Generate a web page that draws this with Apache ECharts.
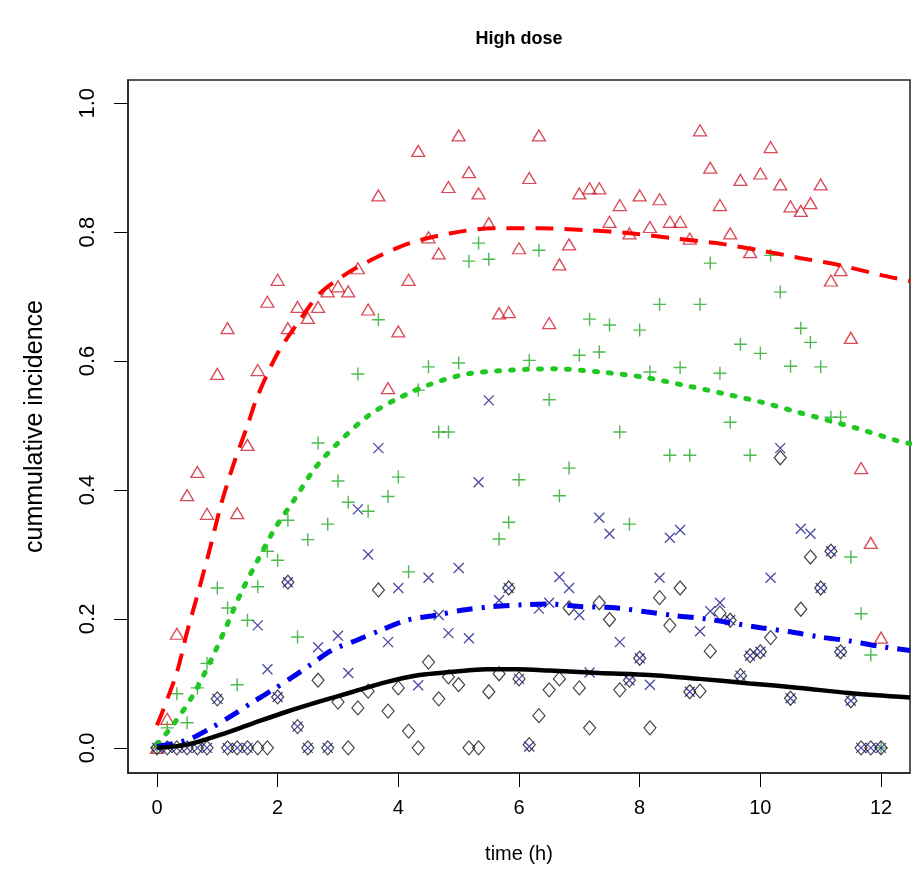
<!DOCTYPE html>
<html><head><meta charset="utf-8">
<script src="https://cdn.jsdelivr.net/npm/echarts@6/dist/echarts.min.js"></script>
<style>html,body{margin:0;padding:0;background:#fff}#c{width:912px;height:891px}</style>
</head><body><div id="c"></div>
<script>
// observation times (h)
const times = [0,0.17,0.33,0.5,0.67,0.83,1.0,1.17,1.33,1.5,1.67,1.83,2.0,2.17,2.33,2.5,2.67,2.83,3.0,3.17,3.33,3.5,3.67,3.83,4.0,4.17,4.33,4.5,4.67,4.83,5.0,5.17,5.33,5.5,5.67,5.83,6.0,6.17,6.33,6.5,6.67,6.83,7.0,7.17,7.33,7.5,7.67,7.83,8.0,8.17,8.33,8.5,8.67,8.83,9.0,9.17,9.33,9.5,9.67,9.83,10.0,10.17,10.33,10.5,10.67,10.83,11.0,11.17,11.33,11.5,11.67,11.83,12.0];
// red triangles
const triVals = [0,0.045,0.177,0.392,0.428,0.363,0.58,0.651,0.364,0.47,0.586,0.692,0.726,0.651,0.684,0.667,0.684,0.708,0.716,0.708,0.744,0.68,0.857,0.558,0.646,0.726,0.926,0.792,0.767,0.87,0.95,0.893,0.86,0.814,0.674,0.676,0.775,0.884,0.95,0.659,0.75,0.781,0.86,0.868,0.868,0.816,0.842,0.798,0.857,0.808,0.851,0.816,0.816,0.79,0.958,0.9,0.842,0.798,0.881,0.769,0.891,0.932,0.874,0.84,0.833,0.845,0.874,0.725,0.741,0.636,0.434,0.318,0.171];
// green plus
const plusVals = [0,0.031,0.084,0.039,0.093,0.131,0.248,0.217,0.098,0.198,0.25,0.305,0.291,0.353,0.172,0.323,0.473,0.347,0.414,0.381,0.58,0.367,0.664,0.39,0.42,0.273,0.555,0.591,0.49,0.49,0.597,0.755,0.783,0.758,0.324,0.35,0.416,0.601,0.772,0.54,0.391,0.434,0.609,0.665,0.614,0.656,0.49,0.347,0.648,0.583,0.688,0.454,0.59,0.454,0.688,0.752,0.581,0.505,0.626,0.454,0.612,0.764,0.707,0.592,0.651,0.629,0.591,0.513,0.513,0.296,0.208,0.144,0];
// blue crosses
const crossVals = [0,0,0,0,0,0,0.076,0,0,0,0.19,0.122,0.079,0.257,0.033,0,0.156,0,0.174,0.116,0.37,0.3,0.465,0.164,0.248,null,0.097,0.264,0.206,0.178,0.279,0.17,0.412,0.539,0.229,0.248,0.107,0.002,0.216,0.225,0.265,0.248,0.206,0.117,0.357,0.332,0.164,0.105,0.139,0.098,0.264,0.326,0.338,0.087,0.181,0.212,0.225,0.198,0.112,0.143,0.149,0.264,0.465,0.077,0.34,0.332,0.248,0.305,0.149,0.073,0,0,0];
// black diamonds
const diamVals = [0,0,0,0,0,0,0.076,0,0,0,0,0,0.079,0.257,0.033,0,0.105,0,0.071,0,0.062,0.088,0.245,0.057,0.093,0.026,0,0.133,0.076,0.11,0.098,0,0,0.087,0.115,0.248,0.107,0.005,0.05,0.09,0.107,0.217,0.093,0.031,0.225,0.199,0.09,0.105,0.139,0.031,0.233,0.19,0.248,0.087,0.088,0.15,0.209,0.198,0.112,0.143,0.149,0.171,0.45,0.077,0.215,0.296,0.248,0.305,0.149,0.073,0,0,0];

// fitted curves
const redCurveT = [0,0.1,0.33,0.5,0.7,0.88,1.07,1.27,1.5,1.66,2.0,2.37,2.7,3.15,3.64,4.19,4.85,5.56,6.34,7.12,7.88,8.6,9.27,9.98,10.65,11.3,12.02,12.48];
const redCurveY = [0.035,0.058,0.117,0.18,0.247,0.31,0.38,0.44,0.5,0.544,0.612,0.664,0.705,0.736,0.761,0.783,0.798,0.806,0.806,0.803,0.798,0.79,0.783,0.772,0.76,0.749,0.733,0.724];
const greenCurveT = [0,0.27,0.6,0.88,1.14,1.39,1.67,1.96,2.29,2.62,3.0,3.5,3.95,4.53,5.14,5.87,6.6,7.35,8.06,8.71,9.37,10.03,10.65,11.59,12.25,12.48];
const greenCurveY = [0.005,0.036,0.082,0.133,0.186,0.24,0.291,0.341,0.387,0.434,0.473,0.515,0.54,0.564,0.58,0.586,0.588,0.583,0.575,0.563,0.55,0.536,0.52,0.496,0.477,0.472];
const blueCurveT = [0,0.5,0.88,1.26,1.57,1.92,2.25,2.53,2.91,3.31,3.72,4.14,4.64,5.07,5.56,6.06,6.5,7.05,7.63,8.1,8.6,9.1,10.03,10.5,10.98,11.47,11.94,12.48];
const blueCurveY = [0.002,0.012,0.03,0.051,0.07,0.09,0.11,0.128,0.152,0.167,0.183,0.198,0.206,0.214,0.219,0.222,0.223,0.219,0.217,0.211,0.205,0.2,0.186,0.18,0.172,0.166,0.158,0.151];
const blackCurveT = [0,0.5,1.04,1.59,2.15,2.7,3.25,3.8,4.35,4.9,5.46,5.96,6.5,7.33,8.16,8.99,9.82,10.65,11.47,12.48];
const blackCurveY = [0,0.005,0.02,0.038,0.056,0.072,0.087,0.102,0.113,0.118,0.122,0.122,0.12,0.116,0.113,0.107,0.1,0.093,0.085,0.078];

const xTicks = [0,2,4,6,8,10,12];
const yTicks = [0,0.2,0.4,0.6,0.8,1.0];

function pairs(t, v) {
  const out = [];
  for (let i = 0; i < t.length; i++) if (v[i] !== null) out.push([t[i], v[i]]);
  return out;
}

const FONT = '"Liberation Sans", Arial, sans-serif';
const chart = echarts.init(document.getElementById('c'), null, {renderer: 'canvas'});
chart.setOption({
  animation: false,
  backgroundColor: '#fff',
  title: {
    text: 'High dose', left: 519, top: 30, textAlign: 'center', padding: 0,
    textStyle: {fontSize: 18, fontWeight: 'bold', color: '#000', fontFamily: FONT}
  },
  grid: {left: 128, right: 2, top: 80, bottom: 118, show: true, borderColor: '#222', borderWidth: 1.5},
  xAxis: {
    type: 'value', min: -0.48, max: 12.48,
    splitLine: {show: false},
    axisLine: {show: true, onZero: false, lineStyle: {color: '#222', width: 1.5}},
    axisTick: {show: true, customValues: xTicks, length: 14, lineStyle: {color: '#000', width: 1}},
    axisLabel: {customValues: xTicks, margin: 25, fontSize: 20, color: '#000', fontFamily: FONT},
    name: 'time (h)', nameLocation: 'middle', nameGap: 71,
    nameTextStyle: {fontSize: 20, color: '#000', fontFamily: FONT}
  },
  yAxis: {
    type: 'value', min: -0.039, max: 1.036,
    splitLine: {show: false},
    axisLine: {show: true, onZero: false, lineStyle: {color: '#222', width: 1.5}},
    axisTick: {show: true, customValues: yTicks, length: 14, lineStyle: {color: '#000', width: 1}},
    axisLabel: {customValues: yTicks, rotate: 90, margin: 29, fontSize: 22, color: '#000', fontFamily: FONT,
      formatter: v => v.toFixed(1)},
    name: 'cummulative incidence', nameLocation: 'middle', nameGap: 80, nameRotate: 90,
    nameTextStyle: {fontSize: 25, color: '#000', fontFamily: FONT}
  },
  series: [
    {type: 'scatter', data: pairs(times, triVals), symbol: 'triangle', symbolSize: [13, 11], z: 2,
      itemStyle: {color: 'rgba(0,0,0,0)', borderColor: '#d01c2c', borderWidth: 1.3}},
    {type: 'scatter', data: pairs(times, plusVals), symbol: 'path://M0,6L12,6M6,0L6,12', symbolSize: 13, z: 2,
      itemStyle: {color: 'rgba(0,0,0,0)', borderColor: '#22a822', borderWidth: 1.4}},
    {type: 'scatter', data: pairs(times, diamVals), symbol: 'diamond', symbolSize: [12, 14], z: 2,
      itemStyle: {color: 'rgba(0,0,0,0)', borderColor: '#111', borderWidth: 1.2}},
    {type: 'scatter', data: pairs(times, crossVals), symbol: 'path://M0,0L10,10M10,0L0,10', symbolSize: 10, z: 2,
      itemStyle: {color: 'rgba(0,0,0,0)', borderColor: '#1c1c8c', borderWidth: 1.3}},
    {type: 'line', data: pairs(redCurveT, redCurveY), showSymbol: false, smooth: 0.3, z: 5,
      lineStyle: {color: '#f00', width: 4, type: [18, 11]}},
    {type: 'line', data: pairs(greenCurveT, greenCurveY), showSymbol: false, smooth: 0.3, z: 5,
      lineStyle: {color: '#22c822', width: 5, type: [3, 11], cap: 'round'}},
    {type: 'line', data: pairs(blueCurveT, blueCurveY), showSymbol: false, smooth: 0.3, z: 5,
      lineStyle: {color: '#0000ee', width: 5, type: [16, 9, 3, 9]}},
    {type: 'line', data: pairs(blackCurveT, blackCurveY), showSymbol: false, smooth: 0.3, z: 5,
      lineStyle: {color: '#000', width: 4.5}}
  ]
});
</script>
</body></html>
